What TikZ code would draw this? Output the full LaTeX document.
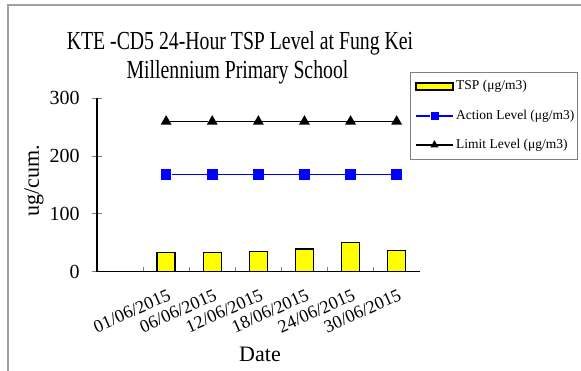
\documentclass[tikz,border=0pt]{standalone}
\usepackage{fontspec}
\setmainfont{Liberation Serif}
\newfontfamily\titlefont[FakeStretch=0.76]{Liberation Serif}
\usetikzlibrary{shapes.geometric}
\definecolor{framegray}{RGB}{160,160,160}
\definecolor{tickgray}{RGB}{128,128,128}
\definecolor{tspyellow}{RGB}{255,255,0}
\tikzset{
  tspbar/.style   = {draw=black, line width=1.4pt, fill=tspyellow},
  actmark/.style  = {shape=rectangle, fill=blue, inner sep=0pt,
                     minimum size=10.5pt},
  limmark/.style  = {shape=regular polygon, regular polygon sides=3,
                     fill=black, inner sep=0pt, minimum size=12.5pt},
  actline/.style  = {draw=blue, line width=1.3pt},
  limline/.style  = {draw=black, line width=1.3pt},
  axisline/.style = {draw=black, line width=1.2pt},
  tickline/.style = {draw=tickgray, line width=0.8pt},
  titletext/.style = {font=\titlefont\fontsize{26}{30}\selectfont, inner sep=0pt},
  ticklbl/.style  = {font=\fontsize{20}{22}\selectfont, anchor=east, inner sep=0pt},
  datelbl/.style  = {font=\fontsize{18}{20}\selectfont, anchor=north east,
                     rotate=24, inner sep=0pt},
  axistitle/.style = {font=\fontsize{22}{24}\selectfont, inner sep=0pt},
  legtext/.style  = {font=\fontsize{13.5}{15}\selectfont, anchor=west, inner sep=0pt},
  legframe/.style = {draw=tickgray, line width=0.8pt, inner sep=0pt}
}
\begin{document}
\begin{tikzpicture}
  [
  x = 1pt, y = 1pt,
  every node/.style = {text=black}
  ]
\useasboundingbox (0,0) rectangle (581,371);

% chart frame (only top and left edges are in view)
\draw[draw=framegray, line width=1.2pt] (8,0) -- (8,366) -- (581,366);

\node[titletext, anchor=base] (title1) at (240,321) {KTE -CD5 24-Hour TSP Level at Fung Kei};
\node[titletext, anchor=base] (title2) at (237.5,292) {Millennium Primary School};

\node[axistitle, rotate=90] (ylab) at (34,190) {ug/cum.};
\node[axistitle, anchor=base] (xlab) at (260,9.3) {Date};

\begin{scope}[shift={(97pt,99.3pt)}, x=46.1pt, y=0.578pt]
  \draw[tspbar] (1.305,0) rectangle (1.695,33);
  \draw[tspbar] (2.305,0) rectangle (2.695,33);
  \draw[tspbar] (3.305,0) rectangle (3.695,35);
  \draw[tspbar] (4.305,0) rectangle (4.695,39);
  \draw[tspbar] (5.305,0) rectangle (5.695,51);
  \draw[tspbar] (6.305,0) rectangle (6.695,37);

  \draw[tickline] (-0.115,0) -- (0.105,0);
  \draw[tickline] (-0.115,100) -- (0.105,100);
  \draw[tickline] (-0.115,200) -- (0.105,200);
  \draw[tickline] (-0.115,300) -- (0.105,300);
  \draw[tickline] (1,0) -- (1,8.7);
  \draw[tickline] (2,0) -- (2,8.7);
  \draw[tickline] (3,0) -- (3,8.7);
  \draw[tickline] (4,0) -- (4,8.7);
  \draw[tickline] (5,0) -- (5,8.7);
  \draw[tickline] (6,0) -- (6,8.7);
  \draw[axisline] (0,300) -- (0,0) -- (7,0);

  \node[ticklbl] (y0)   at (-0.37,0)   {0};
  \node[ticklbl] (y100) at (-0.37,100) {100};
  \node[ticklbl] (y200) at (-0.37,200) {200};
  \node[ticklbl] (y300) at (-0.37,300) {300};

  \node[actmark] (act1) at (1.5,168) {};
  \node[actmark] (act2) at (2.5,168) {};
  \node[actmark] (act3) at (3.5,168) {};
  \node[actmark] (act4) at (4.5,168) {};
  \node[actmark] (act5) at (5.5,168) {};
  \node[actmark] (act6) at (6.5,168) {};
  \draw[actline] (act1) -- (act2) -- (act3) -- (act4) -- (act5) -- (act6);

  \node[limmark] (lim1) at (1.5,260) {};
  \node[limmark] (lim2) at (2.5,260) {};
  \node[limmark] (lim3) at (3.5,260) {};
  \node[limmark] (lim4) at (4.5,260) {};
  \node[limmark] (lim5) at (5.5,260) {};
  \node[limmark] (lim6) at (6.5,260) {};
  \draw[limline] (lim1) -- (lim2) -- (lim3) -- (lim4) -- (lim5) -- (lim6);

  \node[datelbl] (d1) at (1.52,-29) {01/06/2015};
  \node[datelbl] (d2) at (2.52,-29) {06/06/2015};
  \node[datelbl] (d3) at (3.52,-29) {12/06/2015};
  \node[datelbl] (d4) at (4.52,-29) {18/06/2015};
  \node[datelbl] (d5) at (5.52,-29) {24/06/2015};
  \node[datelbl] (d6) at (6.52,-29) {30/06/2015};
\end{scope}

% legend
\node[legframe, minimum width=167pt, minimum height=86.3pt] (legend) at (494.2,255.2) {};
\draw[tspbar, line width=1.2pt] (416,281) rectangle (453,288);
\node[legtext] (kTSP) at (456,284.3) {TSP (μg/m3)};

\coordinate (kacta) at (416,255);
\coordinate (kactb) at (453,255);
\node[actmark, minimum size=8pt] (kact) at (434.5,255) {};
\draw[actline] (kacta) -- (kact) -- (kactb);
\node[legtext] (kAct) at (456,255) {Action Level (μg/m3)};

\coordinate (klima) at (416,226);
\coordinate (klimb) at (453,226);
\node[limmark, minimum size=9.5pt] (klim) at (434.5,226) {};
\draw[limline] (klima) -- (klim) -- (klimb);
\node[legtext] (kLim) at (456,226) {Limit Level (μg/m3)};

\end{tikzpicture}
\end{document}
